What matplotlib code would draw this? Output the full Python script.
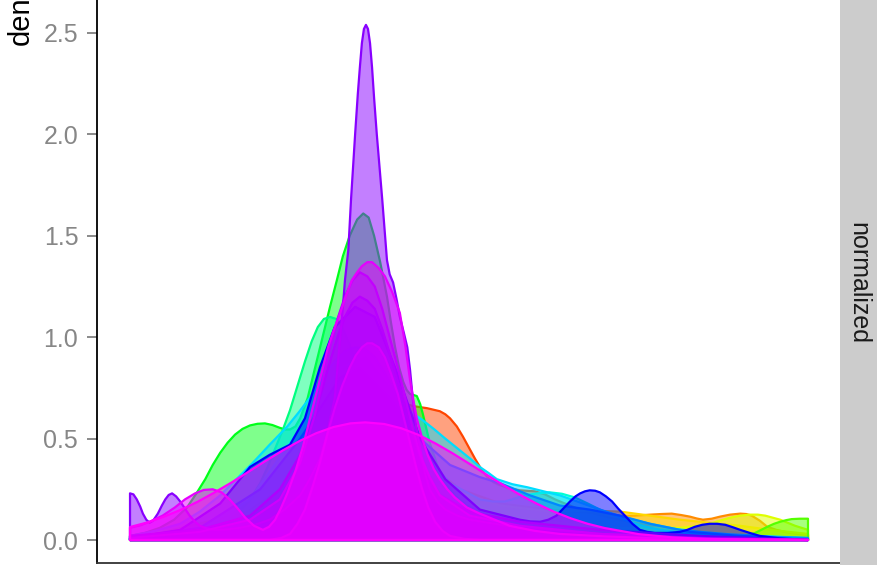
# density curves of 17 groups, "normalized" facet
import numpy as np
import matplotlib.pyplot as plt
from matplotlib.colors import to_rgba
from matplotlib.patches import Rectangle

plt.rcParams['font.family'] = ['Liberation Sans', 'DejaVu Sans']

# --- data (x in 0..100, y = density) ---
red_x = [0, 5, 10.3, 14, 17.7, 21.4, 25.1, 28, 31.0, 33.2, 35.4, 37.6, 39.8, 41.8, 43.8, 45.7, 46.5, 47.2, 48.2, 49.1, 50.0, 50.9, 51.8, 52.7, 53.6, 54.6, 56, 57.5, 59.7, 61.2, 62.7, 64.5, 66.4, 68.6, 70.8, 73.7, 76.7, 80.4, 84.1, 88.5, 92.9, 100]
red_y = [0.0, 0.01, 0.03, 0.07, 0.12, 0.22, 0.35, 0.48, 0.60, 0.67, 0.72, 0.71, 0.68, 0.66, 0.65, 0.635, 0.62, 0.60, 0.56, 0.51, 0.455, 0.40, 0.35, 0.31, 0.285, 0.27, 0.255, 0.245, 0.24, 0.225, 0.20, 0.175, 0.15, 0.13, 0.11, 0.09, 0.07, 0.055, 0.04, 0.025, 0.015, 0.0]

orange_x = [0, 13.3, 22.1, 29.5, 33.9, 38.3, 42.8, 48.7, 54.6, 61.9, 69.3, 72.3, 74.5, 76.7, 78.3, 79.9, 81.3, 82.6, 83.6, 84.5, 85.8, 87.0, 88.5, 90.0, 90.9, 91.7, 92.9, 94.0, 95.3, 96.6, 98.3, 100]
orange_y = [0.0, 0.05, 0.25, 0.55, 0.70, 0.60, 0.40, 0.25, 0.18, 0.15, 0.13, 0.12, 0.12, 0.125, 0.128, 0.13, 0.123, 0.115, 0.106, 0.10, 0.105, 0.115, 0.125, 0.13, 0.128, 0.12, 0.095, 0.065, 0.05, 0.04, 0.03, 0.025]

gold_x = [0, 17.7, 28.0, 33.9, 39.8, 47.2, 54.6, 61.9, 67.8, 72.3, 76.7, 81.1, 85.5, 90.0, 94.4, 100]
gold_y = [0.0, 0.08, 0.35, 0.55, 0.45, 0.25, 0.17, 0.14, 0.145, 0.14, 0.12, 0.10, 0.085, 0.07, 0.05, 0.03]

ygreen_x = [0, 25.1, 33.9, 42.8, 54.6, 69.3, 81.1, 83.3, 85.5, 87.0, 88.5, 90.0, 91.4, 92.6, 93.7, 94.8, 95.9, 97.0, 98.1, 100]
ygreen_y = [0.0, 0.20, 0.45, 0.30, 0.12, 0.06, 0.06, 0.068, 0.08, 0.095, 0.11, 0.12, 0.125, 0.125, 0.12, 0.11, 0.10, 0.085, 0.07, 0.05]

lime_x = [0, 17.7, 28.0, 33.9, 39.8, 48.7, 57.5, 69.3, 84.1, 88, 90.0, 91.1, 92.2, 93.1, 94.0, 95.0, 95.9, 96.8, 97.6, 98.8, 100]
lime_y = [0.0, 0.10, 0.45, 0.60, 0.40, 0.15, 0.06, 0.02, 0.01, 0.012, 0.015, 0.024, 0.035, 0.05, 0.065, 0.08, 0.09, 0.098, 0.103, 0.105, 0.105]

green_x = [0, 2.2, 4.4, 6.5, 8.4, 9.8, 11.1, 12.2, 13.3, 14.4, 15.5, 16.6, 17.7, 18.8, 19.9, 21.0, 22.1, 22.9, 23.6, 24.4, 25.1, 26.2, 27.3, 28.4, 29.5, 30.5, 31.4, 32.4, 33.5, 34.4, 35.2, 36.0, 36.9, 37.9, 38.5, 39.1, 39.7, 40.3, 40.8, 41.3, 41.8, 42.3, 42.8, 43.2, 43.7, 44.2, 45.0, 45.7, 46.8, 47.9, 49.7, 51.6, 54.5, 57.5, 62, 66.4, 71.5, 76.7, 87, 100]
green_y = [0.02, 0.035, 0.06, 0.10, 0.16, 0.23, 0.30, 0.37, 0.43, 0.48, 0.52, 0.548, 0.565, 0.573, 0.575, 0.567, 0.553, 0.545, 0.545, 0.56, 0.60, 0.70, 0.85, 1.00, 1.15, 1.28, 1.40, 1.50, 1.58, 1.61, 1.59, 1.50, 1.37, 1.20, 1.07, 0.95, 0.85, 0.78, 0.74, 0.72, 0.715, 0.71, 0.67, 0.62, 0.55, 0.48, 0.40, 0.33, 0.27, 0.22, 0.17, 0.14, 0.10, 0.08, 0.055, 0.04, 0.03, 0.02, 0.01, 0.0]

spring_x = [0, 5, 10.3, 13.3, 16.2, 17.7, 19.2, 20.3, 21.4, 22.5, 23.6, 24.7, 25.8, 26.8, 27.7, 28.6, 29.5, 30.4, 31.3, 32.3, 33.2, 34.3, 35.4, 36.5, 37.6, 38.7, 39.8, 42.8, 47.2, 54.6, 63.4, 76.7, 100]
spring_y = [0.01, 0.025, 0.05, 0.09, 0.15, 0.20, 0.28, 0.36, 0.45, 0.54, 0.64, 0.76, 0.88, 0.98, 1.05, 1.09, 1.10, 1.09, 1.05, 0.97, 0.88, 0.76, 0.64, 0.52, 0.42, 0.35, 0.30, 0.22, 0.15, 0.08, 0.04, 0.01, 0.0]

aqua_x = [0, 10.3, 17.7, 25.1, 31.0, 34.8, 38.3, 42.8, 47.2, 51.6, 53.5, 55.3, 56.8, 58.3, 60.1, 61.9, 63.7, 65.6, 67.5, 69.3, 71.5, 73.7, 76, 78.2, 81, 84.1, 88.5, 92.9, 100]
aqua_y = [0.01, 0.05, 0.20, 0.55, 0.85, 0.90, 0.75, 0.45, 0.28, 0.20, 0.19, 0.19, 0.205, 0.22, 0.23, 0.235, 0.228, 0.21, 0.18, 0.15, 0.12, 0.09, 0.066, 0.05, 0.038, 0.03, 0.018, 0.01, 0.0]

cyan_x = [0, 3.7, 7.4, 10.3, 13.3, 15.7, 18.1, 20.6, 23.2, 24.9, 26.5, 28.4, 30.2, 31.7, 33.2, 34.7, 36.1, 37.6, 39.1, 41.1, 43.2, 44.9, 46.5, 47.8, 49.1, 50.4, 51.6, 52.9, 54.1, 56.4, 58.6, 61, 63.4, 66.4, 69.3, 73, 76.7, 80.4, 84.1, 88.5, 92.9, 100]
cyan_y = [0.02, 0.045, 0.08, 0.14, 0.22, 0.30, 0.38, 0.47, 0.56, 0.63, 0.70, 0.80, 0.88, 0.93, 0.95, 0.94, 0.90, 0.82, 0.72, 0.64, 0.59, 0.545, 0.50, 0.465, 0.43, 0.395, 0.36, 0.33, 0.30, 0.275, 0.26, 0.24, 0.22, 0.185, 0.15, 0.11, 0.08, 0.055, 0.04, 0.028, 0.02, 0.01]

azure_x = [0, 10.3, 19.2, 25.1, 31.0, 33.9, 38.3, 42.8, 47.2, 51.6, 54.6, 59.0, 63.4, 67.8, 72.3, 76.7, 82.6, 90.0, 100]
azure_y = [0.01, 0.06, 0.25, 0.50, 0.80, 0.85, 0.70, 0.50, 0.37, 0.31, 0.28, 0.22, 0.17, 0.15, 0.12, 0.08, 0.04, 0.02, 0.01]

blue_x = [0, 7.4, 13.3, 17.7, 20.6, 23.6, 25.8, 28.0, 30.2, 33.2, 36.1, 39.1, 42.8, 46.5, 51.6, 57.5, 59.0, 60.5, 61.7, 62.9, 63.9, 64.9, 65.7, 66.4, 67.1, 67.8, 68.6, 69.3, 70.2, 71.1, 72.0, 73.0, 74.1, 75.2, 76.3, 77.4, 79.3, 81.1, 82.2, 83.3, 84.4, 85.5, 86.6, 87.8, 88.9, 90.0, 91.4, 92.9, 95.9, 100]
blue_y = [0.01, 0.05, 0.18, 0.36, 0.42, 0.47, 0.60, 0.85, 1.05, 1.15, 1.10, 0.85, 0.50, 0.30, 0.15, 0.10, 0.092, 0.09, 0.10, 0.12, 0.155, 0.19, 0.215, 0.23, 0.24, 0.245, 0.243, 0.235, 0.215, 0.19, 0.155, 0.12, 0.08, 0.05, 0.04, 0.035, 0.035, 0.04, 0.05, 0.065, 0.075, 0.08, 0.08, 0.075, 0.063, 0.05, 0.035, 0.02, 0.008, 0.0]

indigo_x = [0, 10.3, 17.7, 22.1, 25.1, 27.3, 29.5, 30.6, 31.7, 32.8, 33.9, 35.0, 36.1, 37.2, 38.3, 39.5, 40.6, 41.7, 42.8, 44.2, 45.7, 50.1, 57.5, 69.3, 84.1, 100]
indigo_y = [0.02, 0.05, 0.12, 0.25, 0.42, 0.62, 0.88, 1.00, 1.10, 1.17, 1.20, 1.18, 1.14, 1.04, 0.92, 0.78, 0.65, 0.52, 0.40, 0.30, 0.22, 0.14, 0.09, 0.05, 0.02, 0.0]

violet_x = [0, 0.5, 1.0, 1.5, 1.9, 2.4, 2.9, 3.4, 4.1, 4.7, 5.2, 5.7, 6.2, 6.8, 7.4, 8.1, 8.8, 9.6, 10.3, 11.5, 12.5, 14.3, 16.2, 18.4, 20.6, 22.8, 25.1, 26.5, 28.0, 29.1, 30.2, 31.0, 31.4, 31.7, 32.2, 32.6, 33.2, 33.6, 33.9, 34.2, 34.5, 34.8, 35.1, 35.4, 35.7, 36.0, 36.4, 37.2, 37.9, 38.3, 38.8, 39.3, 39.8, 40.4, 40.9, 41.3, 41.7, 42.2, 42.8, 43.5, 44.2, 45.3, 46.5, 48.3, 50.1, 57.5, 69.3, 84.1, 100]
violet_y = [0.23, 0.225, 0.20, 0.165, 0.13, 0.10, 0.085, 0.095, 0.13, 0.17, 0.20, 0.222, 0.23, 0.215, 0.19, 0.155, 0.12, 0.09, 0.07, 0.055, 0.05, 0.052, 0.06, 0.075, 0.10, 0.15, 0.22, 0.30, 0.40, 0.53, 0.70, 1.00, 1.15, 1.28, 1.43, 1.68, 2.00, 2.20, 2.33, 2.45, 2.52, 2.54, 2.52, 2.45, 2.33, 2.18, 2.00, 1.68, 1.38, 1.31, 1.27, 1.19, 1.10, 1.02, 0.95, 0.84, 0.70, 0.56, 0.45, 0.33, 0.25, 0.19, 0.15, 0.12, 0.10, 0.06, 0.03, 0.01, 0.0]

purple_x = [0, 10.3, 17.7, 22.1, 25.1, 27.3, 29.5, 30.6, 31.7, 32.8, 33.9, 35.0, 36.1, 37.2, 38.3, 39.5, 40.6, 41.7, 42.8, 44.2, 45.7, 50.1, 57.5, 69.3, 84.1, 100]
purple_y = [0.01, 0.04, 0.10, 0.20, 0.38, 0.62, 0.95, 1.09, 1.20, 1.28, 1.32, 1.30, 1.25, 1.14, 1.00, 0.85, 0.70, 0.55, 0.42, 0.31, 0.22, 0.12, 0.07, 0.03, 0.01, 0.0]

orchid_x = [0, 20.6, 22.3, 23.6, 24.7, 25.8, 26.9, 28.0, 29.1, 30.2, 31.3, 32.4, 33.3, 34.2, 35.0, 35.7, 36.7, 37.6, 38.5, 39.5, 40.4, 41.3, 42.2, 43.1, 44.0, 45.0, 46.1, 47.2, 49.4, 51.6, 100]
orchid_y = [0.0, 0.0, 0.01, 0.03, 0.08, 0.15, 0.26, 0.38, 0.52, 0.65, 0.76, 0.85, 0.91, 0.95, 0.97, 0.97, 0.95, 0.90, 0.82, 0.72, 0.60, 0.48, 0.36, 0.25, 0.16, 0.09, 0.045, 0.02, 0.005, 0.0, 0.0]

pink_x = [0, 1.5, 2.9, 4.8, 6.6, 8.1, 9.6, 10.9, 12.2, 13.5, 14.7, 15.9, 17.0, 18.3, 19.6, 20.5, 21.4, 22.3, 23.2, 24.4, 25.5, 26.4, 27.3, 28.3, 29.2, 30.1, 31.0, 31.9, 32.7, 33.5, 34.2, 35.0, 35.7, 36.7, 37.6, 38.7, 39.8, 40.6, 41.3, 41.8, 42.3, 43.1, 43.9, 44.8, 45.7, 46.8, 47.9, 49.7, 51.6, 53.8, 56, 59.7, 63.4, 70, 76.7, 88, 100]
pink_y = [0.06, 0.072, 0.09, 0.12, 0.16, 0.20, 0.23, 0.247, 0.25, 0.235, 0.20, 0.155, 0.11, 0.07, 0.05, 0.065, 0.10, 0.16, 0.23, 0.34, 0.46, 0.58, 0.70, 0.83, 0.95, 1.04, 1.12, 1.21, 1.28, 1.32, 1.35, 1.37, 1.37, 1.34, 1.30, 1.22, 1.12, 0.96, 0.79, 0.69, 0.60, 0.50, 0.42, 0.35, 0.30, 0.25, 0.21, 0.16, 0.13, 0.10, 0.07, 0.045, 0.03, 0.018, 0.01, 0.004, 0.0]

magenta_x = [0, 2.5, 5, 7.5, 10, 12.5, 15, 17.5, 20, 22.5, 25, 27.5, 30, 32.5, 34.7, 37.5, 40, 42.5, 45, 47.5, 50, 52.5, 55, 57.5, 60, 62.5, 65, 67.5, 70, 75, 80, 85, 90, 100]
magenta_y = [0.064, 0.086, 0.115, 0.149, 0.189, 0.235, 0.284, 0.337, 0.39, 0.441, 0.488, 0.527, 0.557, 0.575, 0.58, 0.572, 0.551, 0.519, 0.477, 0.429, 0.377, 0.324, 0.272, 0.223, 0.179, 0.140, 0.107, 0.080, 0.059, 0.029, 0.013, 0.005, 0.002, 0.0]

series = [
    (red_x, red_y, '#FF4500'),
    (orange_x, orange_y, '#FF8C00'),
    (gold_x, gold_y, '#FFD700'),
    (ygreen_x, ygreen_y, '#DFFF00'),
    (lime_x, lime_y, '#55FF00'),
    (green_x, green_y, '#00FF1A'),
    (spring_x, spring_y, '#00FF80'),
    (aqua_x, aqua_y, '#00FFD5'),
    (cyan_x, cyan_y, '#00DDFF'),
    (azure_x, azure_y, '#0088FF'),
    (blue_x, blue_y, '#0000FF'),
    (indigo_x, indigo_y, '#6000FF'),
    (violet_x, violet_y, '#8800FF'),
    (purple_x, purple_y, '#A000FF'),
    (orchid_x, orchid_y, '#C800FF'),
    (pink_x, pink_y, '#E600FF'),
    (magenta_x, magenta_y, '#FF00FF'),
]

fig = plt.figure(figsize=(8.77, 5.65), dpi=100)
ax = fig.add_axes([97 / 877, 2 / 565, 743 / 877, 563 / 565])

for xs, ys, col in series:
    px = [xs[0]] + list(xs) + [xs[-1]]
    py = [0] + list(ys) + [0]
    ax.fill(px, py, facecolor=to_rgba(col, 0.5), edgecolor=col, lw=1.6,
            closed=True, joinstyle='round')

ax.set_xlim(-4.87, 104.72)
ax.set_ylim(-0.1134, 2.6627)
ax.set_xticks([])
ax.set_yticks([0, 0.5, 1.0, 1.5, 2.0, 2.5])
ax.set_yticklabels(['0.0', '0.5', '1.0', '1.5', '2.0', '2.5'])
ax.tick_params(axis='y', length=7, width=1.4, color='#8a8a8a', pad=6.5,
               labelsize=18, labelcolor='#878787')
for s in ['top', 'right']:
    ax.spines[s].set_visible(False)
ax.spines['left'].set_linewidth(1.3)
ax.spines['bottom'].set_linewidth(1.3)
ax.spines['bottom'].set_color('#333333')

# facet strip
fig.patches.append(Rectangle((840 / 877, 0), 37 / 877, 1, transform=fig.transFigure,
                             facecolor='#CCCCCC', edgecolor='none'))
fig.text(858 / 877, 1 - 283 / 565, 'normalized', rotation=-90, ha='center', va='center',
         fontsize=18, color='#1A1A1A')

# y axis title, mostly cut off at the top
fig.text(21 / 877, 1 - 45 / 565, 'density', rotation=90, ha='center', va='bottom',
         fontsize=21, color='black')

plt.savefig('out.png', dpi=100)
